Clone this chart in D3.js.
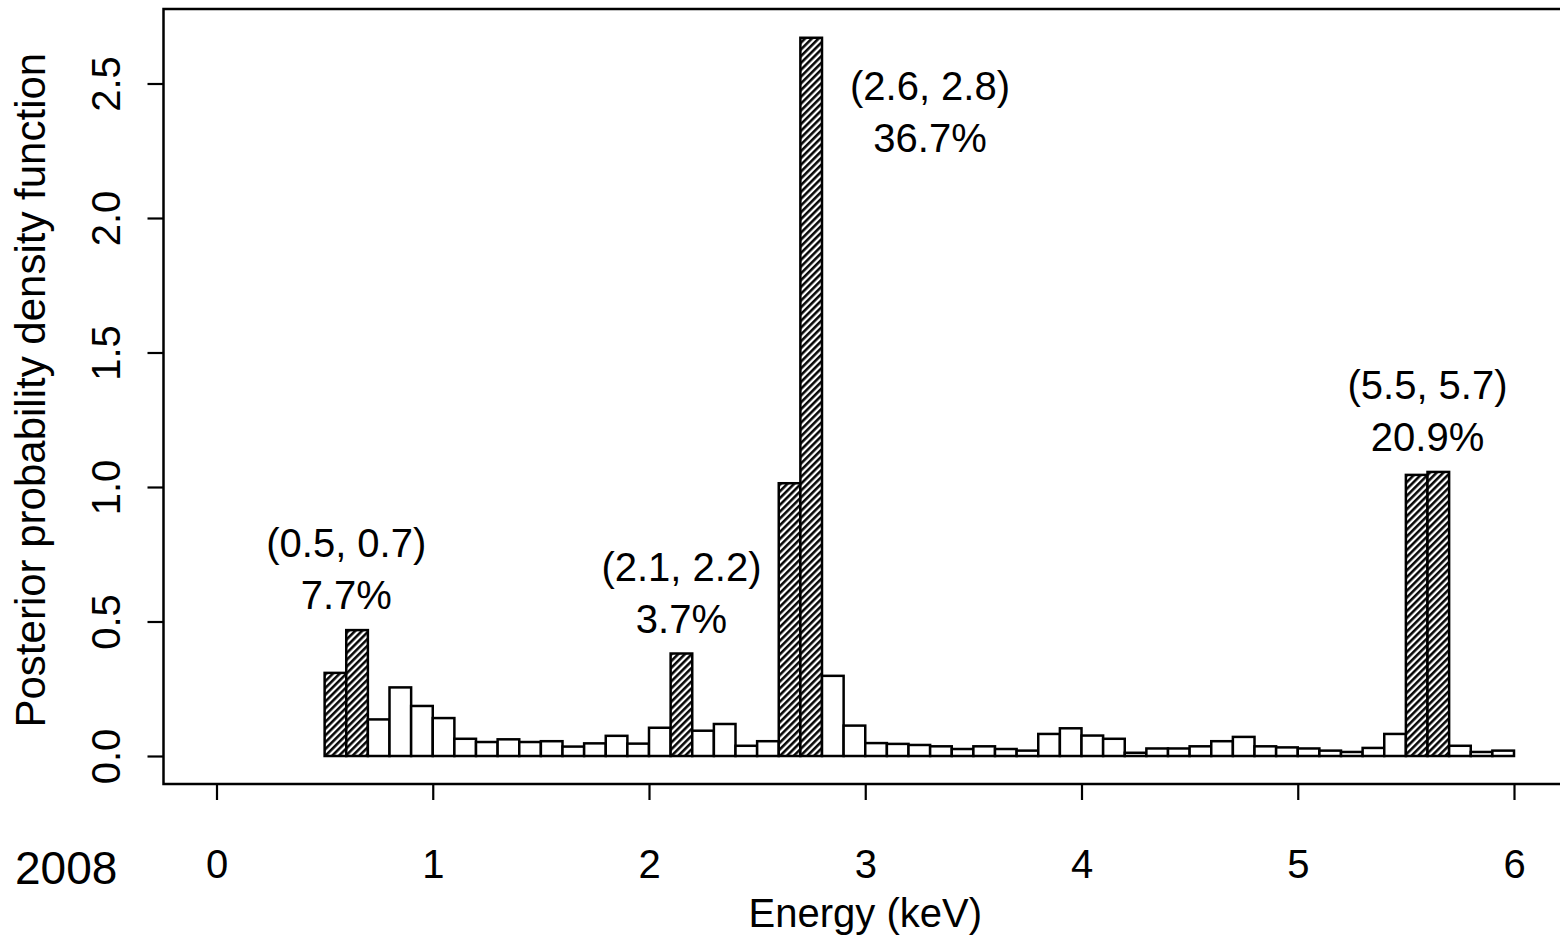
<!DOCTYPE html>
<html>
<head>
<meta charset="utf-8">
<script src="https://cdn.jsdelivr.net/npm/d3@7"></script>
<style>
    body { margin: 0; background: #fff; }
    text { font-family: "Liberation Sans", Arial, Helvetica, sans-serif; fill: #000; }
</style>
</head>
<body>
<div id="chart"></div>
<script>
// left edge of every 0.1 keV bin
const binStarts = [0.5, 0.6, 0.7, 0.8, 0.9,
    1.0, 1.1, 1.2, 1.3, 1.4, 1.5, 1.6, 1.7, 1.8, 1.9,
    2.0, 2.1, 2.2, 2.3, 2.4, 2.5, 2.6, 2.7, 2.8, 2.9,
    3.0, 3.1, 3.2, 3.3, 3.4, 3.5, 3.6, 3.7, 3.8, 3.9,
    4.0, 4.1, 4.2, 4.3, 4.4, 4.5, 4.6, 4.7, 4.8, 4.9,
    5.0, 5.1, 5.2, 5.3, 5.4, 5.5, 5.6, 5.7, 5.8, 5.9]
const binWidth = 0.1
const density = [0.309, 0.468, 0.136, 0.255, 0.186,
    0.141, 0.064, 0.052, 0.062, 0.052, 0.055, 0.035, 0.047, 0.075, 0.046,
    0.105, 0.381, 0.094, 0.119, 0.038, 0.055, 1.014, 2.670, 0.298, 0.113,
    0.048, 0.045, 0.041, 0.036, 0.026, 0.036, 0.026, 0.020, 0.082, 0.103,
    0.076, 0.064, 0.012, 0.028, 0.028, 0.036, 0.055, 0.071, 0.036, 0.032,
    0.028, 0.020, 0.015, 0.030, 0.082, 1.045, 1.056, 0.038, 0.015, 0.020]

// highest posterior intervals
const hpdLow = [0.5, 2.1, 2.6, 5.5]
const hpdHigh = [0.7, 2.2, 2.8, 5.7]
const hpdPct = ["7.7%", "3.7%", "36.7%", "20.9%"]

const xTicks = [0, 1, 2, 3, 4, 5, 6]
const yTicks = [0.0, 0.5, 1.0, 1.5, 2.0, 2.5]
const yearLabel = "2008"
const xTitle = "Energy (keV)"
const yTitle = "Posterior probability density function"

class Histogram {
    constructor(div) {
        this.div = div
        this.width = 1560
        this.height = 942
        this.box = { left: 163.5, top: 9, right: 1568, bottom: 784 }
        this.initSvg()
        this.drawBars()
        this.drawLabels()
    }

    initSvg() {
        this.svg = d3.select(this.div).append("svg")
            .attr("width", this.width)
            .attr("height", this.height)

        this.x = d3.scaleLinear().domain([0, 6]).range([216.5, 1514])
        this.y = d3.scaleLinear().domain([0, 2.5]).range([756, 83.5])

        const pat = this.svg.append("defs").append("pattern")
            .attr("id", "hatch")
            .attr("patternUnits", "userSpaceOnUse")
            .attr("width", 4.8)
            .attr("height", 10)
            .attr("patternTransform", "rotate(45)")
        pat.append("rect").attr("width", 4.8).attr("height", 10).attr("fill", "#fff")
        pat.append("line")
            .attr("x1", 1.3).attr("x2", 1.3).attr("y1", 0).attr("y2", 10)
            .attr("stroke", "#000").attr("stroke-width", 2.5)

        // plot box
        this.svg.append("rect")
            .attr("x", this.box.left).attr("y", this.box.top)
            .attr("width", this.box.right - this.box.left)
            .attr("height", this.box.bottom - this.box.top)
            .attr("fill", "none").attr("stroke", "#000").attr("stroke-width", 2.5)

        const axisX = this.svg.append("g")
            .attr("transform", `translate(0,${this.box.bottom})`)
            .call(d3.axisBottom(this.x).tickValues(xTicks).tickSize(16).tickPadding(50).tickFormat(d3.format("d")))
        axisX.select(".domain").remove()
        axisX.selectAll("line").attr("stroke-width", 2.2)
        axisX.selectAll("text").attr("font-size", 40).attr("font-family", null)

        const axisY = this.svg.append("g")
            .attr("transform", `translate(${this.box.left},0)`)
            .call(d3.axisLeft(this.y).tickValues(yTicks).tickSize(16).tickFormat(d3.format(".1f")))
        axisY.select(".domain").remove()
        axisY.selectAll("line").attr("stroke-width", 2.2)
        axisY.selectAll("text")
            .attr("font-size", 40).attr("font-family", null)
            .attr("x", null).attr("dy", null)
            .attr("text-anchor", "middle")
            .attr("transform", `translate(${120 - this.box.left},0) rotate(-90)`)
    }

    isHatched(start) {
        return hpdLow.some((lo, i) => start >= lo - 1e-9 && start < hpdHigh[i] - 1e-9)
    }

    drawBars() {
        const bars = binStarts.map((s, i) => ({ s, v: density[i], hatched: this.isHatched(s) }))
        this.svg.append("g").selectAll("rect")
            .data(bars)
            .join("rect")
            .attr("x", d => this.x(d.s))
            .attr("width", d => this.x(d.s + binWidth) - this.x(d.s))
            .attr("y", d => this.y(d.v))
            .attr("height", d => this.y(0) - this.y(d.v))
            .attr("fill", d => d.hatched ? "url(#hatch)" : "#fff")
            .attr("stroke", "#000")
            .attr("stroke-width", 2.5)
    }

    drawLabels() {
        const g = this.svg.append("g").attr("font-size", 40).attr("text-anchor", "middle")
        hpdLow.forEach((lo, i) => {
            const hi = hpdHigh[i]
            const top = d3.max(binStarts.filter(s => s >= lo - 1e-9 && s < hi - 1e-9),
                s => density[binStarts.indexOf(s)])
            let cx = this.x((lo + hi) / 2)
            let base = this.y(top) - 21
            if (top > 2) {
                // tallest peak: label sits to its right
                cx = this.x(hi) + 108
                base = this.y(top) + 114
            }
            g.append("text").attr("x", cx).attr("y", base - 52).text(`(${lo}, ${hi})`)
            g.append("text").attr("x", cx).attr("y", base).text(hpdPct[i])
        })

        this.svg.append("text")
            .attr("x", 15).attr("y", 884)
            .attr("font-size", 46)
            .text(yearLabel)

        this.svg.append("text")
            .attr("x", this.x(3)).attr("y", 927)
            .attr("font-size", 40).attr("text-anchor", "middle")
            .text(xTitle)

        this.svg.append("text")
            .attr("transform", `translate(45,${this.y(1.36)}) rotate(-90)`)
            .attr("font-size", 42).attr("text-anchor", "middle")
            .text(yTitle)
    }
}

new Histogram(document.getElementById("chart"))
</script>
</body>
</html>
